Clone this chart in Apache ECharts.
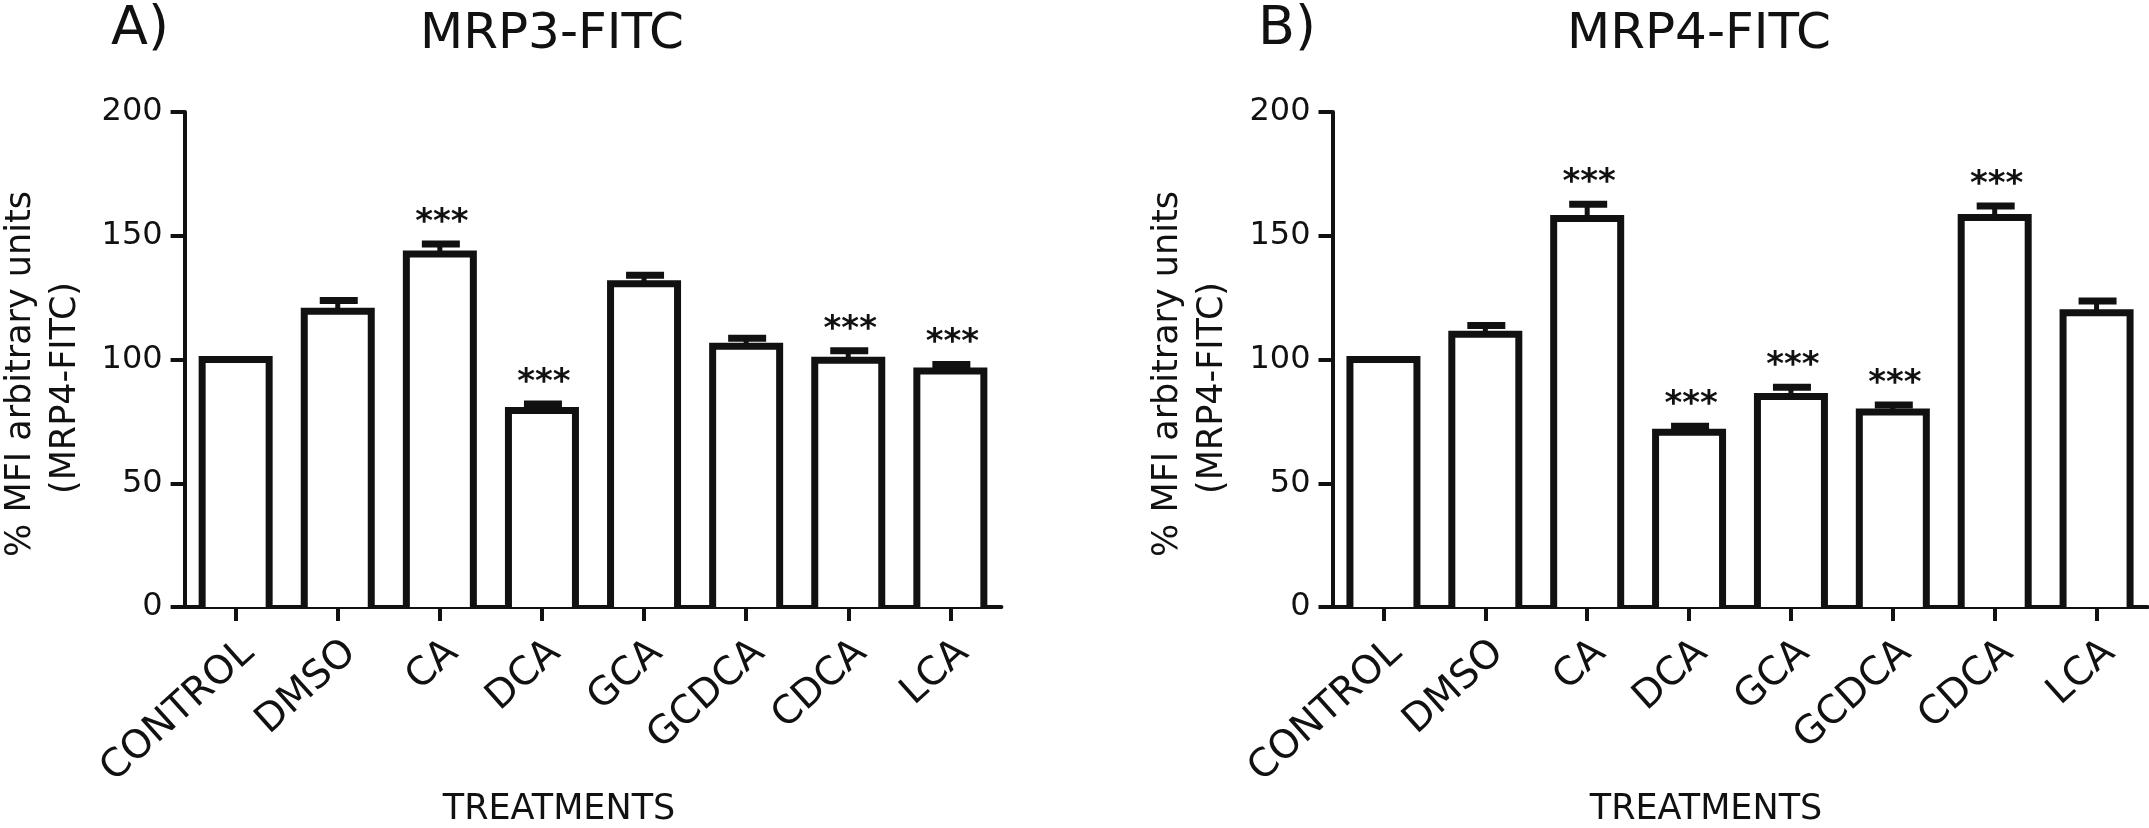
<!DOCTYPE html>
<html>
<head>
<meta charset="utf-8">
<script src="https://cdn.jsdelivr.net/npm/echarts@6/dist/echarts.min.js"></script>
<style>
html,body{margin:0;padding:0;background:#fff;}
#c{width:2149px;height:828px;}
</style>
</head>
<body>
<div id="c"></div>
<script>
// ---- data ----
const categories = ['CONTROL', 'DMSO', 'CA', 'DCA', 'GCA', 'GCDCA', 'CDCA', 'LCA'];
const mrp3Values = [100, 119.5, 142.6, 79.4, 130.6, 105.4, 99.7, 95.4];
const mrp3Errors = [0, 4.3, 4.1, 2.6, 3.4, 3.2, 3.8, 2.6];
const mrp3Signif = ['', '', '***', '***', '', '', '***', '***'];
const mrp4Values = [100, 110.2, 157.0, 70.6, 85.1, 78.8, 157.4, 118.9];
const mrp4Errors = [0, 3.5, 5.7, 2.4, 3.7, 2.8, 4.6, 4.7];
const mrp4Signif = ['', '', '***', '***', '***', '***', '***', ''];
const yMin = 0, yMax = 200, yInterval = 50;
const panelLetters = ['A)', 'B)'];
const panelTitles = ['MRP3-FITC', 'MRP4-FITC'];
const xAxisTitle = 'TREATMENTS';
const yAxisTitleLines = ['% MFI arbitrary units', '(MRP4-FITC)'];

// ---- chart ----
const FONT = 'DejaVu Sans';
const INK = '#111111';
const BAR_W = 67;
const chart = echarts.init(document.getElementById('c'), null, {renderer: 'canvas'});

const grids = [
  {left: 184.6, top: 112, width: 816.8, height: 495},
  {left: 1332.5, top: 112, width: 815, height: 495}
];

function xAxisDef(gi) {
  return {
    type: 'category', gridIndex: gi, data: categories,
    axisLine: {lineStyle: {color: INK, width: 4}},
    axisTick: {show: true, alignWithLabel: true, length: 14, lineStyle: {color: INK, width: 4}},
    axisLabel: {
      rotate: 42, margin: 26, verticalAlign: 'top', interval: 0,
      color: INK, fontFamily: FONT, fontSize: 39
    },
    splitLine: {show: false}
  };
}
function yAxisDef(gi) {
  return {
    type: 'value', gridIndex: gi, min: yMin, max: yMax, interval: yInterval,
    axisLine: {show: true, lineStyle: {color: INK, width: 4}},
    axisTick: {show: true, length: 14, lineStyle: {color: INK, width: 4}},
    axisLabel: {margin: 22, color: INK, fontFamily: FONT, fontSize: 32},
    splitLine: {show: false}
  };
}

function errSeries(gi, values, errors, signif) {
  return {
    type: 'custom', xAxisIndex: gi, yAxisIndex: gi, z: 5,
    data: values.map((v, i) => [i, v, errors[i]]),
    renderItem: function (params, api) {
      const i = api.value(0), v = api.value(1), e = api.value(2);
      const base = api.coord([i, v]);
      const zero = api.coord([i, 0]);
      const top = api.coord([i, v + e]);
      const hw = BAR_W / 2;
      const children = [];
      children.push({type: 'polyline', shape: {points: [
          [base[0] - hw, zero[1]], [base[0] - hw, base[1]], [base[0] + hw, base[1]], [base[0] + hw, zero[1]]]},
        style: {stroke: INK, lineWidth: 7, fill: null, lineJoin: 'miter'}});
      if (e > 0) {
        children.push({type: 'line', shape: {x1: base[0], y1: base[1], x2: top[0], y2: top[1]},
          style: {stroke: INK, lineWidth: 5}});
        children.push({type: 'line', shape: {x1: top[0] - 18, y1: top[1], x2: top[0] + 20, y2: top[1]},
          style: {stroke: INK, lineWidth: 7}});
      }
      const s = signif[params.dataIndex];
      if (s) {
        children.push({type: 'text', style: {text: s, x: top[0] + 2, y: top[1] - 21,
          align: 'center', verticalAlign: 'middle', fill: INK,
          font: 'bold 34px "' + FONT + '"'}});
      }
      return {type: 'group', children: children};
    }
  };
}
function barSeries(gi, values) {
  return {
    type: 'bar', xAxisIndex: gi, yAxisIndex: gi, data: values, barWidth: BAR_W,
    itemStyle: {color: '#ffffff', borderWidth: 0},
    emphasis: {disabled: true}, silent: true, animation: false
  };
}

const graphics = [];
const offsets = [0, 1147];
for (let p = 0; p < 2; p++) {
  const dx = offsets[p];
  graphics.push({type: 'text', x: 111 + dx, y: 30,
    style: {text: panelLetters[p], font: '54px "' + FONT + '"', fill: INK, align: 'left', verticalAlign: 'middle'}});
  graphics.push({type: 'text', x: 552 + dx, y: 35,
    style: {text: panelTitles[p], font: '50px "' + FONT + '"', fill: INK, align: 'center', verticalAlign: 'middle'}});
  graphics.push({type: 'text', x: 559 + dx, y: 810,
    style: {text: xAxisTitle, font: '35px "' + FONT + '"', fill: INK, align: 'center', verticalAlign: 'middle'}});
  graphics.push({type: 'text', x: 21 + dx, y: 374, rotation: Math.PI / 2,
    style: {text: yAxisTitleLines[0], font: '35px "' + FONT + '"', fill: INK, align: 'center', verticalAlign: 'middle'}});
  graphics.push({type: 'text', x: 66 + dx, y: 388, rotation: Math.PI / 2,
    style: {text: yAxisTitleLines[1], font: '35px "' + FONT + '"', fill: INK, align: 'center', verticalAlign: 'middle'}});
}

chart.setOption({
  animation: false,
  backgroundColor: '#ffffff',
  grid: grids,
  xAxis: [xAxisDef(0), xAxisDef(1)],
  yAxis: [yAxisDef(0), yAxisDef(1)],
  series: [
    barSeries(0, mrp3Values), errSeries(0, mrp3Values, mrp3Errors, mrp3Signif),
    barSeries(1, mrp4Values), errSeries(1, mrp4Values, mrp4Errors, mrp4Signif)
  ],
  graphic: graphics
});
</script>
</body>
</html>
